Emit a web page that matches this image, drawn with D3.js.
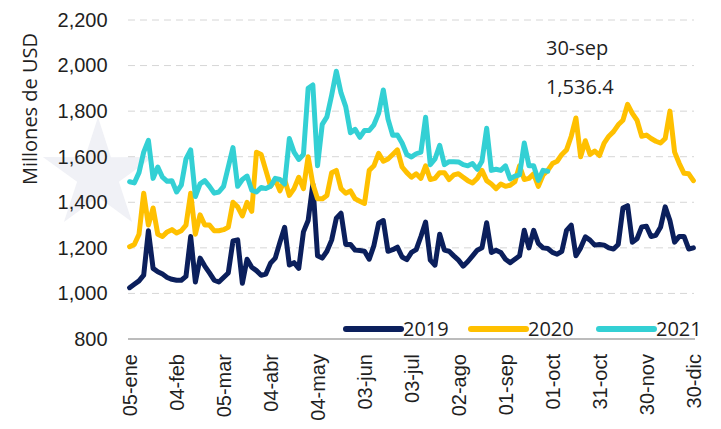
<!DOCTYPE html>
<html lang="es">
<head>
<meta charset="UTF-8">
<title>Millones de USD</title>
<style>
  body { margin: 0; background: #fff; }
  svg { font-family: "Open Sans", Lato, sans-serif; }
  .grid line { stroke: #d6d6d6; stroke-width: 1px; stroke-dasharray: 7,5; }
  .axis text { fill: #1f1f1f; font-size: 20px; }
  .axis .domain { stroke: #a6a6a6; stroke-width: 1.3px; }
  .line { fill: none; stroke-width: 5px; stroke-linejoin: round; stroke-linecap: round; }
  .l2019 { stroke: #0B1F5C; }
  .l2020 { stroke: #FFC000; }
  .l2021 { stroke: #33D0D4; }
  .label { fill: #1f1f1f; font-size: 20px; }
  .marca { fill: #f0f1f6; }
</style>
</head>
<body>
<script src="https://cdn.jsdelivr.net/npm/d3@7"></script>
<script>
// fechas cada 3 dias (mes-dia), comunes a las tres series
const fechas = [
  "01-05","01-08","01-11","01-14","01-17","01-20","01-23","01-26","01-29","02-01",
  "02-04","02-07","02-10","02-13","02-16","02-19","02-22","02-25","02-28","03-02",
  "03-05","03-08","03-11","03-14","03-17","03-20","03-23","03-26","03-29","04-01",
  "04-04","04-07","04-10","04-13","04-16","04-19","04-22","04-25","04-28","05-01",
  "05-04","05-07","05-10","05-13","05-16","05-19","05-22","05-25","05-28","05-31",
  "06-03","06-06","06-09","06-12","06-15","06-18","06-21","06-24","06-27","06-30",
  "07-03","07-06","07-09","07-12","07-15","07-18","07-21","07-24","07-27","07-30",
  "08-02","08-05","08-08","08-11","08-14","08-17","08-20","08-23","08-26","08-29",
  "09-01","09-04","09-07","09-10","09-13","09-16","09-19","09-22","09-25","09-28",
  "10-01","10-04","10-07","10-10","10-13","10-16","10-19","10-22","10-25","10-28",
  "10-31","11-03","11-06","11-09","11-12","11-15","11-18","11-21","11-24","11-27",
  "11-30","12-03","12-06","12-09","12-12","12-15","12-18","12-21","12-24","12-27",
  "12-30"
];

const serie2019 = [
  1025, 1040, 1055, 1080, 1275, 1110, 1095, 1085, 1070, 1062,
  1058, 1058, 1075, 1250, 1050, 1155, 1120, 1090, 1058, 1050,
  1070, 1090, 1230, 1235, 1045, 1150, 1115, 1100, 1080, 1085,
  1133, 1155, 1225, 1290, 1125, 1135, 1110, 1270, 1320, 1480,
  1165, 1155, 1185, 1234, 1330, 1352, 1215, 1215, 1190, 1188,
  1185, 1150, 1210, 1308, 1320, 1185, 1192, 1203, 1160, 1148,
  1180, 1192, 1250, 1313, 1146, 1124, 1260, 1190, 1185, 1165,
  1146, 1120, 1140, 1165, 1190, 1200, 1310, 1180, 1190, 1180,
  1150, 1135, 1150, 1165, 1277, 1200, 1277, 1219, 1200, 1197,
  1180, 1172, 1185, 1277, 1300, 1165, 1200, 1248, 1234, 1212,
  1215, 1212, 1200, 1195, 1215, 1375, 1385, 1225, 1240, 1292,
  1295, 1250, 1255, 1290, 1380, 1320, 1225, 1250, 1250, 1195,
  1200
];

const serie2020 = [
  1205, 1215, 1260, 1440, 1300, 1375, 1260, 1250, 1270, 1280,
  1265, 1275, 1300, 1440, 1260, 1345, 1300, 1300, 1275, 1275,
  1280, 1290, 1400, 1380, 1340, 1400, 1360, 1620, 1610, 1540,
  1470, 1500, 1450, 1500, 1430, 1460, 1510, 1460, 1600, 1480,
  1415, 1415, 1430, 1530, 1540, 1460, 1440, 1450, 1415, 1405,
  1395, 1540, 1560, 1615, 1580, 1590, 1610, 1630, 1555, 1530,
  1510, 1525, 1505, 1560, 1500, 1505, 1530, 1530, 1500, 1520,
  1525, 1510, 1495, 1485, 1505, 1540, 1495, 1480, 1460, 1480,
  1470, 1475, 1490, 1560, 1500, 1505, 1525, 1470, 1520, 1540,
  1570, 1580, 1610, 1630, 1690, 1770, 1600, 1670, 1610, 1625,
  1605, 1660, 1690, 1710, 1740, 1760, 1830, 1790, 1760, 1690,
  1695, 1680, 1668, 1660, 1680, 1800, 1620, 1570, 1527, 1525,
  1495
];

// 2021 llega hasta finales de septiembre
const serie2021 = [
  1490, 1485, 1530, 1620, 1672, 1505, 1555, 1510, 1492, 1495,
  1445, 1475, 1590, 1630, 1425, 1481, 1495, 1470, 1440, 1445,
  1470, 1555, 1640, 1470, 1500, 1515, 1453, 1445, 1465, 1460,
  1470, 1505, 1500, 1480, 1680, 1620, 1588, 1610, 1900, 1915,
  1560, 1742, 1775, 1870, 1975, 1880, 1820, 1705, 1720, 1685,
  1715, 1715, 1740, 1790, 1893, 1765, 1694, 1695, 1660, 1610,
  1599, 1613, 1620, 1773, 1565, 1590, 1650, 1565, 1578, 1578,
  1577, 1565, 1560, 1570, 1545, 1580, 1725, 1540, 1545, 1540,
  1560, 1503, 1515, 1520, 1660, 1560, 1560, 1496, 1540, 1536.4
];

const yTicks = [800, 1000, 1200, 1400, 1600, 1800, 2000, 2200];
const xTicks = ["01-05","02-04","03-05","04-04","05-04","06-03","07-03",
  "08-02","09-01","10-01","10-31","11-30","12-30"];
const meses = ["ene","feb","mar","abr","may","jun","jul","ago","sep","oct","nov","dic"];
const anios = ["2019", "2020", "2021"];

const width = 721;
const height = 429;

const parse = d3.timeParse('%Y-%m-%d');
const toDate = s => parse('2020-' + s);
const fmt = d => d3.timeFormat('%d')(d) + '-' + meses[d.getMonth()];

const x = d3.scaleTime()
  .domain([toDate('01-05'), toDate('12-30')])
  .range([129.6, 693.4]);
const y = d3.scaleLinear().domain([800, 2200]).range([339, 20]);

const svg = d3.select('body').append('svg')
  .attr('width', width)
  .attr('height', height);

// marca de agua (estrella tenue)
const star = d3.range(10).map(i => {
  const r = i % 2 ? 22 : 58;
  const a = -Math.PI / 2 + i * Math.PI / 5;
  return [98 + r * Math.cos(a), 175 + r * Math.sin(a)];
});
svg.append('polygon').attr('class', 'marca').attr('points', star.join(' '));

// grid
svg.append('g')
  .attr('class', 'grid')
  .selectAll('line')
  .data(yTicks.filter(v => v > 800))
  .enter().append('line')
  .attr('x1', 128).attr('x2', 694)
  .attr('y1', d => y(d)).attr('y2', d => y(d));

// y axis
const yAxis = svg.append('g')
  .attr('class', 'axis')
  .attr('transform', 'translate(129.6,0)')
  .call(d3.axisLeft(y).tickValues(yTicks).tickSize(0).tickPadding(22)
    .tickFormat(d3.format(',')));
yAxis.select('.domain').remove();

// x axis
const xAxis = svg.append('g')
  .attr('class', 'axis')
  .attr('transform', `translate(0,${y(800)})`)
  .call(d3.axisBottom(x).tickValues(xTicks.map(toDate)).tickSize(0).tickFormat(fmt));
xAxis.select('.domain').attr('d', 'M128,0H695');
xAxis.selectAll('text')
  .attr('transform', 'rotate(-90)')
  .attr('text-anchor', 'end')
  .attr('x', -15)
  .attr('y', 0)
  .attr('dy', '0.35em');

// y title
svg.append('text')
  .attr('class', 'label')
  .attr('text-anchor', 'middle')
  .attr('transform', 'translate(37,109) rotate(-90)')
  .text('Millones de USD');

const valueline = d3.line()
  .x(d => x(d.date))
  .y(d => y(d.value));

const series = [serie2019, serie2020, serie2021];
series.forEach((s, k) => {
  const data = s.map((v, i) => ({ date: toDate(fechas[i]), value: v }));
  svg.append('path')
    .data([data])
    .attr('class', 'line l' + anios[k])
    .attr('d', valueline);
});

// annotation
svg.append('text').attr('class', 'label').attr('x', 546).attr('y', 55).text('30-sep');
svg.append('text').attr('class', 'label').attr('x', 546).attr('y', 94)
  .text(d3.format(',.1f')(serie2021[serie2021.length - 1]));

// legend
const legendX = [346, 471, 599];
const legend = svg.append('g');
anios.forEach((a, k) => {
  legend.append('line')
    .attr('class', 'l' + a)
    .attr('x1', legendX[k]).attr('x2', legendX[k] + 55)
    .attr('y1', 329).attr('y2', 329)
    .attr('stroke-width', 6)
    .attr('stroke-linecap', 'round');
  legend.append('text')
    .attr('class', 'label')
    .attr('x', legendX[k] + 57)
    .attr('y', 336)
    .text(a);
});
</script>
</body>
</html>
